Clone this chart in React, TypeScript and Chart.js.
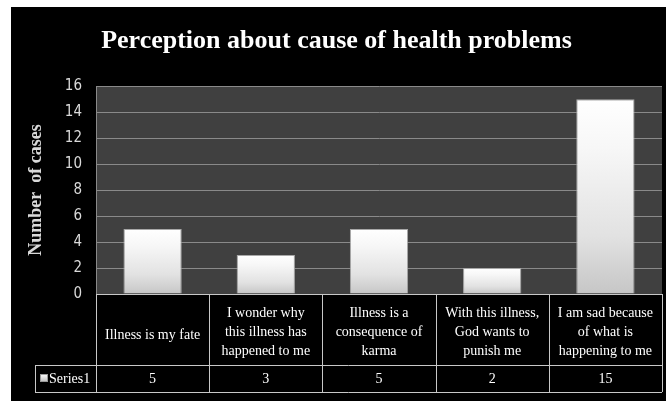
import React, { useEffect, useRef } from "react";
import { Chart, registerables } from "chart.js";

Chart.register(...registerables);

const TITLE = "Perception about cause of health problems";
const Y_TITLE = "Number  of cases";
const SERIES_NAME = "Series1";
const categoryLines: string[][] = [
  ["Illness is my fate"],
  ["I wonder why", "this illness has", "happened to me"],
  ["Illness is a", "consequence of", "karma"],
  ["With this illness,", "God wants to", "punish me"],
  ["I am sad because", "of what is", "happening to me"],
];
const values: number[] = [5, 3, 5, 2, 15];
const yMin = 0;
const yMax = 16;
const yStep = 2;

const SERIF = "'Liberation Serif', 'Times New Roman', serif";
const NARROW = "'Liberation Sans Narrow', 'DejaVu Sans Condensed', 'Liberation Sans', sans-serif";

const backgroundPlugin = {
  id: "bgPlugin",
  beforeDraw(chart: any) {
    const { ctx, chartArea, width, height } = chart;
    ctx.save();
    ctx.fillStyle = "#000000";
    ctx.fillRect(0, 0, width, height);
    ctx.fillStyle = "#404040";
    ctx.fillRect(chartArea.left, chartArea.top, chartArea.right - chartArea.left, chartArea.bottom - chartArea.top);
    ctx.restore();
  },
};

const tablePlugin = {
  id: "dataTable",
  afterDraw(chart: any) {
    const { ctx, chartArea, scales } = chart;
    const x = scales.x;
    const n = categoryLines.length;
    const colW = (chartArea.right - chartArea.left) / n;
    const top = chartArea.bottom;
    const rowSep = top + 71;
    const bottom = rowSep + 27;
    const legendLeft = 24;
    ctx.save();
    ctx.strokeStyle = "#c8c8c8";
    ctx.lineWidth = 1;
    const hl = (x1: number, x2: number, y: number) => {
      ctx.beginPath();
      ctx.moveTo(x1, Math.round(y) + 0.5);
      ctx.lineTo(x2, Math.round(y) + 0.5);
      ctx.stroke();
    };
    const vl = (xx: number, y1: number, y2: number) => {
      ctx.beginPath();
      ctx.moveTo(Math.round(xx) + 0.5, y1);
      ctx.lineTo(Math.round(xx) + 0.5, y2);
      ctx.stroke();
    };
    hl(chartArea.left, chartArea.right, top);
    hl(legendLeft, chartArea.right, rowSep);
    hl(legendLeft, chartArea.right, bottom);
    vl(legendLeft, rowSep, bottom);
    for (let i = 0; i <= n; i++) {
      const bx = i < n ? x.getPixelForValue(i) - colW / 2 : x.getPixelForValue(n - 1) + colW / 2;
      vl(bx, top, bottom);
    }
    ctx.fillStyle = "#ffffff";
    ctx.font = `14px ${SERIF}`;
    ctx.textAlign = "center";
    ctx.textBaseline = "middle";
    const lh = 19;
    const midCat = top + 38;
    for (let i = 0; i < n; i++) {
      const cx = x.getPixelForValue(i);
      const lines = categoryLines[i];
      const start = midCat - ((lines.length - 1) * lh) / 2 + (lines.length === 1 ? 3 : 0);
      lines.forEach((ln, j) => ctx.fillText(ln, cx, start + j * lh));
      ctx.fillText(String(values[i]), cx, rowSep + 14);
    }
    // legend key
    const kx = 29, ky = rowSep + 9;
    const g = ctx.createLinearGradient(0, ky, 0, ky + 8);
    g.addColorStop(0, "#ffffff");
    g.addColorStop(1, "#bdbdbd");
    ctx.fillStyle = g;
    ctx.fillRect(kx, ky, 8, 8);
    ctx.strokeStyle = "#9a9a9a";
    ctx.strokeRect(kx + 0.5, ky + 0.5, 7, 7);
    ctx.fillStyle = "#ffffff";
    ctx.textAlign = "left";
    ctx.fillText(SERIES_NAME, 38, rowSep + 14);
    ctx.restore();
  },
};

export default function App() {
  const ref = useRef<HTMLCanvasElement | null>(null);
  useEffect(() => {
    if (!ref.current) return;
    const chart = new Chart(ref.current, {
      type: "bar",
      data: {
        labels: categoryLines.map((l) => l.join(" ")),
        datasets: [
          {
            label: SERIES_NAME,
            data: values,
            backgroundColor: (c: any) => {
              const ch = c.chart;
              if (!ch.chartArea || c.type !== "data") return "#e6e6e6";
              const y = ch.scales.y;
              const yTop = y.getPixelForValue(c.raw as number);
              const yBot = y.getPixelForValue(0);
              const g = ch.ctx.createLinearGradient(0, yTop, 0, yBot);
              g.addColorStop(0, "#ffffff");
              g.addColorStop(0.25, "#f7f7f7");
              g.addColorStop(0.7, "#e2e2e2");
              g.addColorStop(1, "#c6c6c6");
              return g;
            },
            borderColor: "#a8a8a8",
            borderWidth: 1,
            borderSkipped: "bottom",
            barPercentage: 0.515,
            categoryPercentage: 1,
          },
        ],
      },
      options: {
        responsive: false,
        animation: false,
        layout: { padding: { left: 0, right: 4, top: 0, bottom: 107 } },
        plugins: {
          legend: { display: false },
          tooltip: { enabled: false },
          title: {
            display: true,
            text: TITLE,
            color: "#ffffff",
            font: { family: SERIF, size: 26, weight: "bold", lineHeight: 1.2 },
            padding: { top: 19, bottom: 29 },
          },
        },
        scales: {
          x: {
            display: false,
            offset: true,
          },
          y: {
            min: yMin,
            max: yMax,
            ticks: {
              stepSize: yStep,
              color: "#d9d9d9",
              padding: 14,
              font: { family: NARROW, size: 15 },
            },
            grid: { color: "#8a8a8a", drawTicks: false, lineWidth: 1 },
            border: { color: "#8a8a8a" },
            title: {
              display: true,
              text: Y_TITLE,
              color: "#d9d9d9",
              font: { family: SERIF, size: 18, weight: "bold" },
              padding: { top: 15, bottom: 0 },
            },
            afterFit(scale: any) {
              scale.width = 85;
            },
          },
        },
      },
      plugins: [backgroundPlugin, tablePlugin],
    });
    return () => chart.destroy();
  }, []);
  return (
    <div style={{ position: "absolute", left: 11, top: 7, width: 655, height: 394 }}>
      <canvas ref={ref} width={655} height={394} style={{ display: "block" }} />
    </div>
  );
}
